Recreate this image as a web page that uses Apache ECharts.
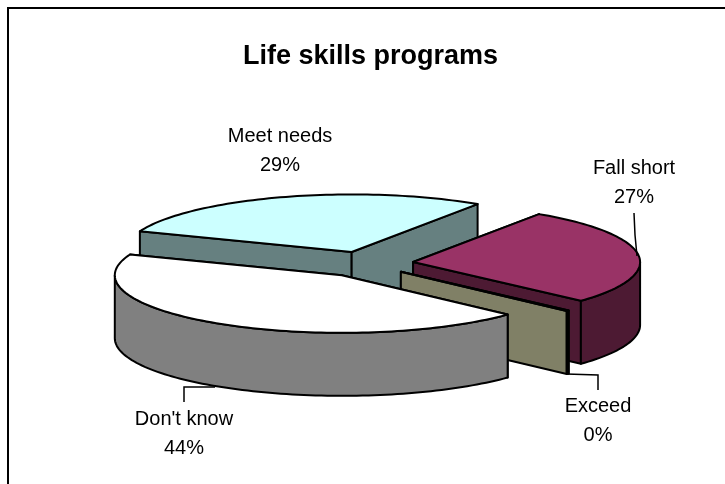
<!DOCTYPE html>
<html>
<head>
<meta charset="utf-8">
<style>html,body{margin:0;padding:0;background:#fff}#chart{width:725px;height:484px}</style>
<script src="https://cdn.jsdelivr.net/npm/echarts@6/dist/echarts.min.js"></script>
</head>
<body>
<div id="chart"></div>
<script>
// labels show the rounded values
const categories = ['Fall short', 'Exceed', "Don't know", 'Meet needs'];
const values = [27.4, 0.2, 43.9, 28.5];
const topColors = ['#993366', '#FFFFCC', '#FFFFFF', '#CCFFFF'];
const wallColors = ['#4D1A33', '#808066', '#808080', '#668080'];

// pie layout
const cx = 366, cy = 263.5, rx = 227, ry = 57.6, depth = 63, explode = 0.209;
const startAngle = -56.3;
const font = '"Liberation Sans", Arial, sans-serif';

// back to front, there is no depth buffer here
const drawOrder = [3, 0, 1, 2];
// small per slice nudge, the source sits a bit lower than the plain explode gives
const nudge = [[0, 0], [0, 0], [1, 1.5], [0, 0]];

// label centre and leader line for each slice
const labelPos = [[634, 182.5], [598, 420.5], [184, 433.5], [280, 151]];
const leaders = [
  [[634, 213], [635, 235], [637, 256]],
  [[566, 374], [598, 375], [598, 390]],
  [[215, 387], [184, 387], [184, 402]],
  null
];

const total = values.reduce((a, b) => a + b, 0);
const slices = [];
let acc = startAngle;
values.forEach((v) => {
  const sweep = v / total * 360;
  slices.push([acc, acc + sweep]);
  acc += sweep;
});

const rad = (d) => d * Math.PI / 180;

function arcPoints(ox, oy, a0, a1, dy) {
  const pts = [];
  const n = Math.max(2, Math.ceil(Math.abs(a1 - a0) / 1.5));
  for (let i = 0; i <= n; i++) {
    const a = rad(a0 + (a1 - a0) * i / n);
    pts.push([ox + rx * Math.cos(a), oy + ry * Math.sin(a) + dy]);
  }
  return pts;
}

function poly(points, fill) {
  return {
    type: 'polygon',
    shape: { points },
    style: { fill, stroke: '#000', lineWidth: 2, lineJoin: 'round' }
  };
}

function renderSlice(params) {
  const i = drawOrder[params.dataIndex];
  const [a0, a1] = slices[i];
  const mid = rad((a0 + a1) / 2);
  const ox = cx + explode * rx * Math.cos(mid) + nudge[i][0];
  const oy = cy + explode * ry * Math.sin(mid) + nudge[i][1];
  const children = [];

  // side walls first, the top face hides what should not show
  [a0, a1].forEach((a) => {
    const p = [ox + rx * Math.cos(rad(a)), oy + ry * Math.sin(rad(a))];
    children.push(poly([[ox, oy], p, [p[0], p[1] + depth], [ox, oy + depth]], wallColors[i]));
  });

  // outer wall, only the front half of the ellipse
  const from = Math.max(a0, 0), to = Math.min(a1, 180);
  if (to > from) {
    const upper = arcPoints(ox, oy, from, to, 0);
    const lower = arcPoints(ox, oy, to, from, depth);
    children.push(poly(upper.concat(lower), wallColors[i]));
  }

  children.push(poly([[ox, oy]].concat(arcPoints(ox, oy, a0, a1, 0)), topColors[i]));
  return { type: 'group', children };
}

// labels and leader lines go on top of every slice
function renderLabel(params) {
  const i = params.dataIndex;
  const children = [{
    type: 'text',
    style: {
      x: labelPos[i][0],
      y: labelPos[i][1],
      text: categories[i] + '\n' + Math.round(values[i]) + '%',
      font: '20px ' + font,
      fill: '#000',
      align: 'center',
      verticalAlign: 'middle',
      lineHeight: 29
    }
  }];
  if (leaders[i]) {
    children.push({
      type: 'polyline',
      shape: { points: leaders[i] },
      style: { fill: 'none', stroke: '#000', lineWidth: 1.5 }
    });
  }
  return { type: 'group', children };
}

const chart = echarts.init(document.getElementById('chart'), null, { renderer: 'canvas' });
chart.setOption({
  animation: false,
  backgroundColor: '#fff',
  title: {
    text: 'Life skills programs',
    left: 238,
    top: 38,
    textStyle: { fontFamily: font, fontSize: 27, fontWeight: 'bold', color: '#000' }
  },
  graphic: [{
    type: 'rect',
    shape: { x: 8, y: 8, width: 730, height: 490 },
    style: { fill: 'none', stroke: '#000', lineWidth: 2 },
    silent: true
  }],
  series: [
    {
      type: 'custom',
      coordinateSystem: 'none',
      data: drawOrder.map((i) => ({ name: categories[i], value: values[i] })),
      renderItem: renderSlice,
      silent: true,
      z: 2
    },
    {
      type: 'custom',
      coordinateSystem: 'none',
      data: categories.map((c, i) => ({ name: c, value: values[i] })),
      renderItem: renderLabel,
      silent: true,
      z: 3
    }
  ]
});
</script>
</body>
</html>
